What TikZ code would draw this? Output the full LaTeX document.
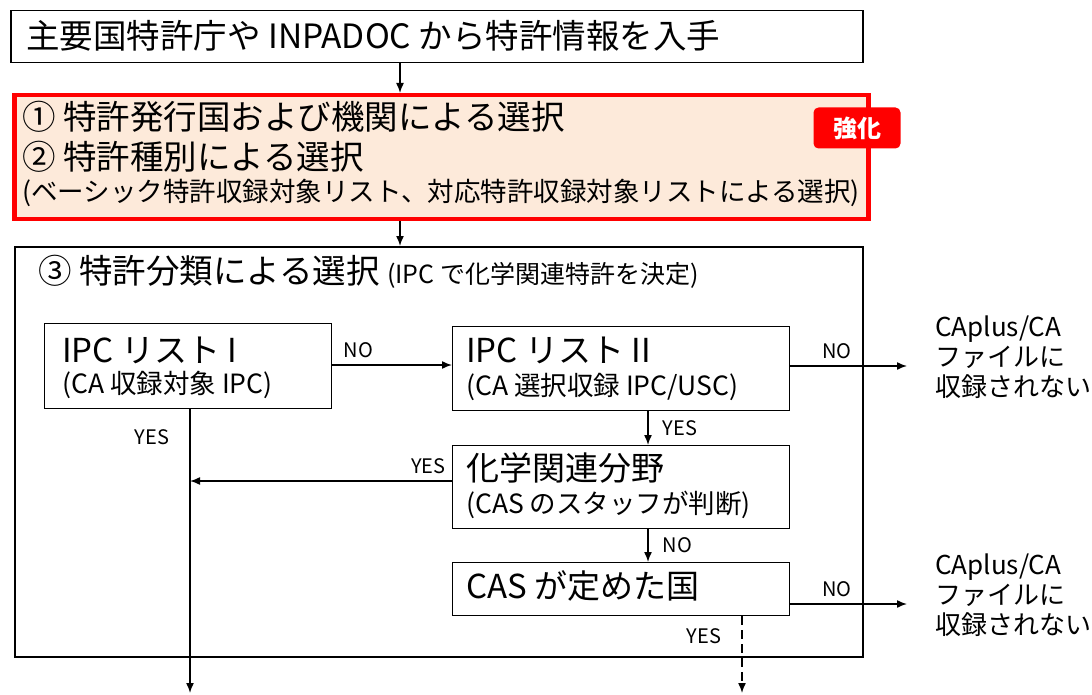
\documentclass[tikz,border=0pt]{standalone}
\usepackage{fontspec}
\setmainfont{Noto Sans CJK JP}
\definecolor{peach}{HTML}{FDEADA}
\definecolor{strongred}{HTML}{FF0000}
\newcommand{\bigtxt}{\fontsize{33.5}{38}\selectfont}
\newcommand{\boxtxt}{\fontsize{33}{38}\selectfont}
\newcommand{\midtxt}{\fontsize{26.5}{30}\selectfont}
\newcommand{\lbltxt}{\fontsize{20}{24}\selectfont}
\usetikzlibrary{positioning, arrows.meta}

\begin{document}
\begin{tikzpicture}[x=1pt,y=-1pt]
    \useasboundingbox (0,0) rectangle (1092,695);
    \tikzset{
      box/.style={draw, line width=1.2pt, anchor=north west, inner sep=0pt},
      txt/.style={anchor=west, inner sep=0pt},
      lbl/.style={inner sep=0pt, font=\lbltxt},
      flow/.style={-{Latex[length=10pt, width=8pt]}, line width=1.5pt}
    }

    % Source of the patent data
    \node[box, line width=1.5pt, minimum width=852pt, minimum height=52pt] (src) at (10,10) {};
    \node[txt] (srctxt) at (26,36) {\bigtxt 主要国特許庁や INPADOC から特許情報を入手};

    % Selection by country and kind (reinforced)
    \node[box, draw=strongred, line width=4.5pt, fill=peach, minimum width=854pt, minimum height=124pt] (sel) at (12,93) {};
    \node[txt] (selA) at (22,117) {\bigtxt ① 特許発行国および機関による選択};
    \node[txt] (selB) at (22,157) {\bigtxt ② 特許種別による選択};
    \node[txt] (selC) at (22,193) {\midtxt (ベーシック特許収録対象リスト、対応特許収録対象リストによる選択)};
    \node[fill=strongred, rounded corners=5pt, minimum width=87pt, minimum height=41pt, text=white, font=\fontsize{24}{28}\selectfont\bfseries] (badge) at (857,128) {強化};

    % Selection by patent classification
    \node[box, line width=1.8pt, minimum width=848pt, minimum height=410pt] (cls) at (14,246) {};
    \node[txt] (clstxt) at (38,272) {\bigtxt ③ 特許分類による選択 {\fontsize{25}{28}\selectfont (IPC で化学関連特許を決定)}};

    \node[box, minimum width=287pt, minimum height=85pt] (ipcA) at (44,323) {};
    \node[txt] at (62,350) {\boxtxt IPC リスト I};
    \node[txt] at (62,385) {\midtxt (CA 収録対象 IPC)};

    \node[box, minimum width=337pt, minimum height=84pt] (ipcB) at (452,326) {};
    \node[txt] at (466,350) {\boxtxt IPC リスト II};
    \node[txt] at (466,387) {\midtxt (CA 選択収録 IPC/USC)};

    \node[box, minimum width=337pt, minimum height=83pt] (chem) at (452,445) {};
    \node[txt] at (466,468) {\boxtxt 化学関連分野};
    \node[txt] at (466,505) {\midtxt (CAS のスタッフが判断)};

    \node[box, minimum width=337pt, minimum height=53pt] (cas) at (452,562) {};
    \node[txt] at (466,586) {\boxtxt CAS が定めた国};

    % Not recorded
    \node[anchor=north west, inner sep=0pt, align=left, font=\fontsize{26}{30}\selectfont] (outA) at (935,316) {CAplus/CA\\ファイルに\\収録されない};
    \node[anchor=north west, inner sep=0pt, align=left, font=\fontsize{26}{30}\selectfont] (outB) at (935,554) {CAplus/CA\\ファイルに\\収録されない};

    % Free ends
    \coordinate (endA) at (190,693);
    \coordinate (endB) at (742,693);
    \coordinate (joinA) at (190,481);

    % Draw the connectors
    \draw[flow] (src.south -| 400,0) -- (sel.north -| 400,0);
    \draw[flow] (sel.south -| 400,0) -- (cls.north -| 400,0);
    \draw[flow] (ipcA.east |- 0,365) -- (ipcB.west |- 0,365) node[lbl, pos=0.22, above=6pt]{NO};
    \draw[flow] (ipcB.east |- 0,366) -- ([xshift=-28pt]outA.west |- 0,366) node[lbl, pos=0.4, above=6pt]{NO};
    \draw[flow] (ipcB.south -| 648,0) -- (chem.north -| 648,0) node[lbl, midway, right=14pt]{YES};
    \draw[flow] (chem.west |- joinA) -- (joinA) node[lbl, pos=0.09, above=6pt]{YES};
    \draw[flow] (ipcA.south -| endA) -- (endA) node[lbl, pos=0.1, left=20pt]{YES};
    \draw[flow] (chem.south -| 648,0) -- (cas.north -| 648,0) node[lbl, midway, right=14pt]{NO};
    \draw[flow] (cas.east |- 0,604) -- ([xshift=-28pt]outB.west |- 0,604) node[lbl, pos=0.4, above=6pt]{NO};
    \draw[flow, dash pattern=on 9pt off 5pt] (cas.south -| endB) -- (endB) node[lbl, pos=0.26, left=20pt]{YES};
\end{tikzpicture}
\end{document}
